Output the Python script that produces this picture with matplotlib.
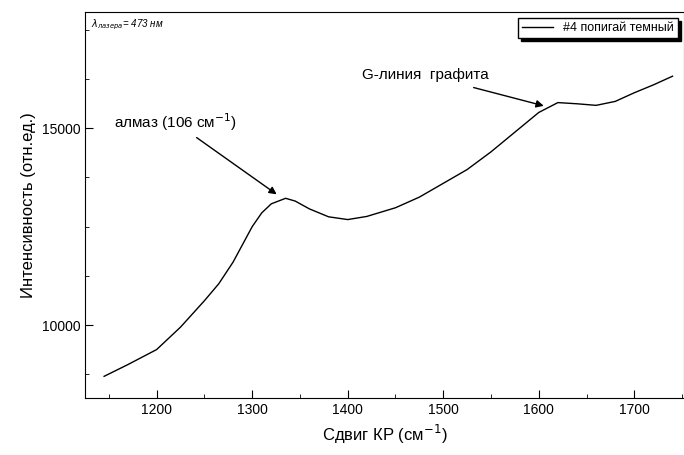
import matplotlib
matplotlib.use("Agg")
import matplotlib.pyplot as plt
import numpy as np
plt.rcParams['font.family'] = ['Liberation Sans', 'DejaVu Sans']

shift = [1145, 1170, 1200, 1225, 1250, 1265, 1280, 1290, 1300, 1310, 1320, 1335, 1345, 1360, 1380, 1400, 1420, 1450, 1475, 1500, 1525, 1550, 1575, 1600, 1620, 1640, 1660, 1680, 1700, 1720, 1740]
intensity = [8700, 9000, 9380, 9950, 10620, 11050, 11600, 12050, 12500, 12850, 13080, 13220, 13150, 12950, 12750, 12680, 12760, 12980, 13250, 13600, 13950, 14400, 14900, 15400, 15650, 15620, 15580, 15680, 15900, 16100, 16320]

fig = plt.figure(figsize=(6.84, 4.55), dpi=100)
ax = fig.add_axes([85/684, 57/455, 599/684, 386/455])
ax.plot(shift, intensity, color='black', lw=1.0, label='#4 попигай темный')
ax.set_xlim(1125, 1752)
ax.set_ylim(8150, 17950)
ax.set_xticks([1200, 1300, 1400, 1500, 1600, 1700])
ax.set_xticks(np.arange(1150, 1751, 50), minor=True)
ax.set_yticks([10000, 15000])
ax.set_yticks(np.arange(8750, 17951, 1250), minor=True)
ax.tick_params(direction='in', which='both', labelsize=10)
ax.tick_params(which='major', length=6)
ax.tick_params(which='minor', length=3)
ax.set_xlabel('Сдвиг КР (см$^{-1}$)', fontsize=12)
ax.set_ylabel('Интенсивность (отн.ед.)', fontsize=12)
leg = ax.legend(loc='upper right', fontsize=9, frameon=True, fancybox=False, shadow={'color': 'black', 'alpha': 1}, borderpad=0.3, handlelength=2.5, edgecolor='black')
ax.text(0.01, 0.985, r'$\lambda_{\mathit{лазера}}$= 473 нм', transform=ax.transAxes, fontsize=7, style='italic', va='top')
ax.annotate('алмаз (106 см$^{-1}$)', xy=(1328, 13280), xytext=(1155, 15000), fontsize=11,
            arrowprops=dict(arrowstyle='-|>', color='black', lw=1))
ax.annotate('G-линия  графита', xy=(1608, 15550), xytext=(1415, 16250), fontsize=11,
            arrowprops=dict(arrowstyle='-|>', color='black', lw=1, shrinkA=8))
fig.savefig('out.png', dpi=100)
